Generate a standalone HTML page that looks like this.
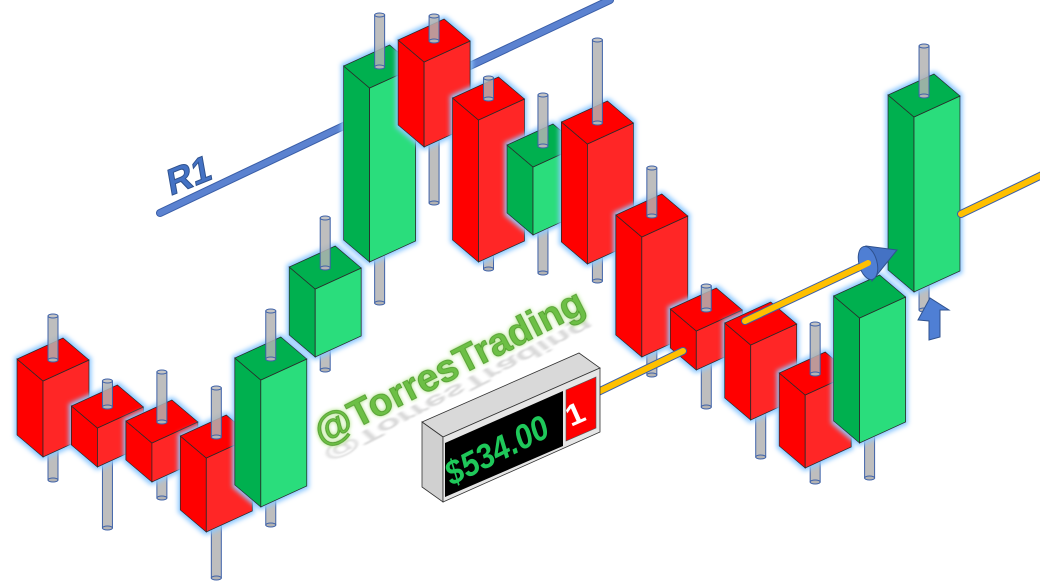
<!DOCTYPE html>
<html><head><meta charset="utf-8"><style>
html,body{margin:0;padding:0;background:#fff;}
svg{display:block;}
</style></head><body>
<svg id="chart" width="1040" height="584" viewBox="0 0 1040 584" xmlns="http://www.w3.org/2000/svg">
<defs>
<filter id="glow" x="-20%" y="-20%" width="140%" height="140%">
<feMorphology in="SourceAlpha" operator="dilate" radius="2" result="d"/>
<feGaussianBlur in="d" stdDeviation="2.5" result="b"/>
<feFlood flood-color="#8ec9ff"/>
<feComposite in2="b" operator="in" result="g"/>
<feMerge><feMergeNode in="g"/><feMergeNode in="SourceGraphic"/></feMerge>
</filter>
<filter id="tglow" x="-10%" y="-30%" width="120%" height="160%">
<feGaussianBlur in="SourceAlpha" stdDeviation="2" result="b"/>
<feFlood flood-color="#a8e27a"/>
<feComposite in2="b" operator="in" result="g"/>
<feMerge><feMergeNode in="g"/><feMergeNode in="SourceGraphic"/></feMerge>
</filter>
<filter id="blur1"><feGaussianBlur stdDeviation="1.5"/></filter>
</defs>
<g id="layer-back"></g>
<g id="layer-candles"></g>
<g id="layer-front"></g>
<g>
<polygon points="422,422 579,353 600,368 443,437" fill="#d9d9d9" stroke="#333" stroke-width="0.8"/>
<polygon points="422,422 443,437 443,502 422,487" fill="#d0d0d0" stroke="#333" stroke-width="0.8"/>
<polygon points="443,437 600,368 600,432 443,502" fill="#e6e6e6" stroke="#333" stroke-width="0.8"/>
<polygon points="445,443 563,391 563,446 445,497" fill="#000"/>
<polygon points="566,390 596,377 596,428 566,441" fill="#ff0000" stroke="#555" stroke-width="0.6"/>
<g transform="translate(452,486) rotate(-27)">
<text x="0" y="0" font-family="Liberation Sans, sans-serif" font-weight="bold" font-style="italic" font-size="34" fill="#1fc85a" textLength="112" lengthAdjust="spacingAndGlyphs">$534.00</text>
</g>
<g transform="translate(571,427) rotate(-24)">
<text x="0" y="0" font-family="Liberation Sans, sans-serif" font-weight="bold" font-size="30" fill="#fff" textLength="18" lengthAdjust="spacingAndGlyphs">1</text>
</g>
</g>
</svg>
<script>
// data (values in chart units; y pixel = 584 - value)
const categories = ["c1","c2","c3","c4","c5","c6","c7","c8","c9","c10","c11","c12","c13","c14","c15","c16","c17"];
const opens  = [203,156,141,126,77,227,322,522,464,349,440,347,253,239,189,141,292];
const closes = [127,117,102,52,204,295,496,437,322,417,320,227,214,164,116,266,467];
const highs  = [268,203,212,196,273,366,569,568,506,489,544,416,298,254,260,284,538];
const lows   = [104,56,86,6,59,214,281,381,315,311,303,209,177,127,102,106,274];

const NS="http://www.w3.org/2000/svg";
const candleLayer=document.getElementById('layer-candles');
const backLayer=document.getElementById('layer-back');
const frontLayer=document.getElementById('layer-front');
function xScale(i){return 43+i*54.44;}
function yScale(v){return 584-v;}
const A=[-26,-22], B=[46,-21];
function mk(tag,attrs,parent){const e=document.createElementNS(NS,tag);for(const k in attrs)e.setAttribute(k,attrs[k]);parent.appendChild(e);return e;}
function pts(a){return a.map(p=>p[0].toFixed(1)+','+p[1].toFixed(1)).join(' ');}
function wick(parent,cx,y1,y2,name){
  const g=mk('g',{},parent);
  
  
  mk('rect',{x:cx-5,y:y1,width:10,height:Math.max(0,y2-y1),fill:'#b3b3b3','fill-opacity':0.85,stroke:'#3f62a8','stroke-width':1},g);
  mk('ellipse',{cx:cx,cy:y1,rx:5,ry:2,fill:'#c4c4c4',stroke:'#3f62a8','stroke-width':1},g);
  mk('ellipse',{cx:cx,cy:y2,rx:5,ry:2,fill:'#b3b3b3',stroke:'#3f62a8','stroke-width':1},g);
  return g;
}
function line3d(parent,x1,y1,x2,y2,color,name){
  const g=mk('g',{},parent);
  
  
  mk('line',{x1:x1,y1:y1,x2:x2,y2:y2,stroke:'#3a5ea8','stroke-width':8,'stroke-linecap':'round'},g);
  mk('line',{x1:x1,y1:y1,x2:x2,y2:y2,stroke:color,'stroke-width':6,'stroke-linecap':'round'},g);
  return g;
}
line3d(backLayer,160,213,352,122,'#5b82d0','r1-line-left');
line3d(backLayer,440,80,610,0,'#5b82d0','r1-line-right');
const r1g=mk('g',{transform:'translate(170,196) rotate(-22) skewX(-12)'},backLayer);
const r1t=mk('text',{x:0,y:0,'font-family':'"Liberation Sans",sans-serif','font-weight':'bold','font-size':36,fill:'#4472c4',stroke:'#2f528f','stroke-width':1},r1g);
r1t.textContent='R1';



for(let i=0;i<categories.length;i++){
  const fx=xScale(i);
  const top=Math.max(opens[i],closes[i]), bot=Math.min(opens[i],closes[i]);
  const ty=yScale(top), by=yScale(bot);
  const up=closes[i]>=opens[i];
  const cL=up?'#00b050':'#ff0000', cR=up?'#2bdd7b':'#ff2626', cT=up?'#00b050':'#ff0000';
  const g=mk('g',{},candleLayer);
  
  
  const cx=fx+10;
  wick(g,cx,by-21,yScale(lows[i]),'lower-wick-'+categories[i]);
  const box=mk('g',{filter:'url(#glow)'},g);
  
  
  const F=[fx,ty],Fb=[fx,by];
  const L=[fx+A[0],ty+A[1]],Lb=[fx+A[0],by+A[1]];
  const R=[fx+B[0],ty+B[1]],Rb=[fx+B[0],by+B[1]];
  const K=[fx+A[0]+B[0],ty+A[1]+B[1]];
  mk('polygon',{points:pts([L,F,Fb,Lb]),fill:cL,stroke:'#2b2b2b','stroke-width':0.8},box);
  mk('polygon',{points:pts([F,R,Rb,Fb]),fill:cR,stroke:'#2b2b2b','stroke-width':0.8},box);
  mk('polygon',{points:pts([L,K,R,F]),fill:cT,stroke:'#2b2b2b','stroke-width':0.8},box);
  const ht=yScale(highs[i]);
  if(ht<ty-21) wick(g,cx,ht,ty-21,'upper-wick-'+categories[i]);
}

line3d(frontLayer,598,392,683,351,'#ffc000','support-line-a');
line3d(frontLayer,745,321,866,264,'#ffc000','support-line-b');
line3d(frontLayer,961,214,1042,175,'#ffc000','support-line-c');
const cone=mk('g',{},frontLayer);


mk('polygon',{points:'866,246 897,250 872,281',fill:'#4472c4',stroke:'#2f528f','stroke-width':1},cone);
mk('ellipse',{cx:868,cy:263,rx:9,ry:17,fill:'#4f7fd4',stroke:'#2f528f','stroke-width':1,transform:'rotate(-15 868 263)'},cone);
mk('line',{x1:858,y1:268,x2:868,y2:263,stroke:'#ffc000','stroke-width':6,'stroke-linecap':'round'},cone);
const ua=mk('polygon',{points:'918,320 930,298 949,310 940,310 940,337 929,340 929,321',fill:'#4f7fd4',stroke:'#2f528f','stroke-width':1},frontLayer);



const rg=mk('g',{transform:'translate(322,452) rotate(-27) scale(1,-0.55)'},frontLayer);
const refl=mk('text',{x:0,y:0,'font-family':'"Liberation Sans",sans-serif','font-weight':'bold','font-style':'italic','font-size':36,fill:'#bdbdbd',opacity:0.6,filter:'url(#blur1)',textLength:298,lengthAdjust:'spacingAndGlyphs'},rg);
refl.textContent='@TorresTrading';


const wg=mk('g',{transform:'translate(322,446) rotate(-27)'},frontLayer);
const wm=mk('text',{x:0,y:0,'font-family':'"Liberation Sans",sans-serif','font-weight':'bold','font-size':38,fill:'#6cbf45',stroke:'#4e9a2c','stroke-width':0.8,filter:'url(#tglow)',textLength:298,lengthAdjust:'spacingAndGlyphs'},wg);
wm.textContent='@TorresTrading';


</script>
</body></html>
